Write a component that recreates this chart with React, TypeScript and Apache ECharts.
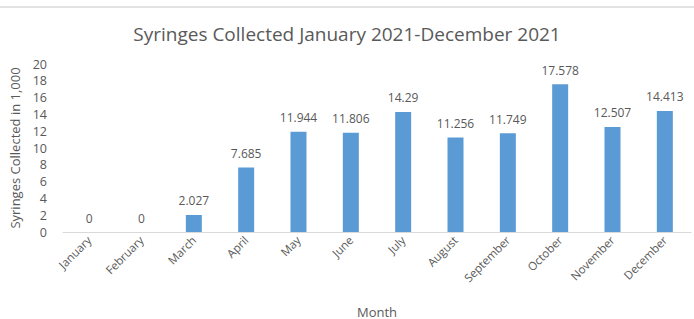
import React, { useEffect, useRef } from "react";
import * as echarts from "echarts";

const months = ["January", "February", "March", "April", "May", "June", "July", "August", "September", "October", "November", "December"];
const syringes = [0, 0, 2.027, 7.685, 11.944, 11.806, 14.29, 11.256, 11.749, 17.578, 12.507, 14.413];
const yTicks = { min: 0, max: 20, interval: 2 };

const FONT = "'Open Sans', 'Noto Sans', sans-serif";
const GRAY = "#595959";

export default function App() {
  const ref = useRef<HTMLDivElement>(null);
  useEffect(() => {
    if (!ref.current) return;
    const chart = echarts.init(ref.current, null, { renderer: "svg" });
    chart.setOption({
      animation: false,
      backgroundColor: "#ffffff",
      textStyle: { fontFamily: FONT },
      title: {
        text: "Syringes Collected January 2021-December 2021",
        left: "center",
        top: 19,
        textStyle: { fontFamily: FONT, fontSize: 19, fontWeight: "normal", color: GRAY },
      },
      graphic: [
        {
          type: "line",
          shape: { x1: 0, y1: 7, x2: 694, y2: 7 },
          style: { stroke: "#d9d9d9", lineWidth: 1.5 },
        },
      ],
      grid: { left: 63, right: 3, top: 64, bottom: 87, outerBoundsMode: "none", containLabel: false },
      xAxis: {
        type: "category",
        data: months,
        name: "Month",
        nameLocation: "middle",
        nameGap: 73,
        nameTextStyle: { fontFamily: FONT, fontSize: 13, color: GRAY },
        axisLine: { lineStyle: { color: "#d9d9d9", width: 1 } },
        axisTick: { show: false },
        axisLabel: { rotate: 45, fontFamily: FONT, fontSize: 11.5, color: GRAY, margin: 6, interval: 0 },
      },
      yAxis: {
        type: "value",
        min: yTicks.min,
        max: yTicks.max,
        interval: yTicks.interval,
        name: "Syringes Collected in 1,000",
        nameLocation: "middle",
        nameGap: 31,
        nameTextStyle: { fontFamily: FONT, fontSize: 13, color: GRAY },
        axisLine: { show: false },
        axisTick: { show: false },
        splitLine: { show: false },
        axisLabel: { fontFamily: FONT, fontSize: 12.5, color: GRAY, margin: 16 },
      },
      series: [
        {
          type: "bar",
          data: syringes,
          barWidth: 16,
          itemStyle: { color: "#5B9BD5" },
          label: {
            show: true,
            position: "top",
            distance: 8,
            fontFamily: FONT,
            fontSize: 12,
            color: GRAY,
            formatter: (p: any) => String(p.value),
          },
        },
      ],
    });
    return () => chart.dispose();
  }, []);
  return <div ref={ref} style={{ position: "fixed", left: 0, top: 0, width: 694, height: 319 }} />;
}
